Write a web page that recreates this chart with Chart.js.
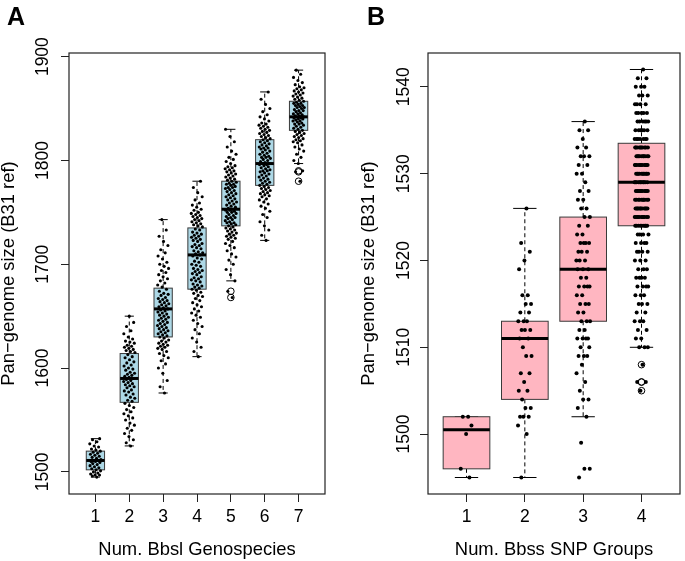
<!DOCTYPE html>
<html>
<head>
<meta charset="utf-8">
<script src="https://cdn.jsdelivr.net/npm/chart.js@4.4.1/dist/chart.umd.min.js"></script>
<style>
  body { margin: 0; background: #fff; }
  .panel { position: absolute; top: 0; height: 561px; }
  #panelA { left: 0; width: 342px; }
  #panelB { left: 342px; width: 343px; }
  .tag { position: absolute; top: 4px; font: bold 25px "Liberation Sans", Arial, sans-serif; line-height: 25px; color: #000; }
</style>
</head>
<body>
<div class="panel" id="panelA">
  <canvas id="chartA" width="342" height="561"></canvas>
  <div class="tag" style="left:7px">A</div>
</div>
<div class="panel" id="panelB">
  <canvas id="chartB" width="343" height="561"></canvas>
  <div class="tag" style="left:25px">B</div>
</div>
<script>
// ---- panel A: pan-genome size by number of Bbsl genospecies ----
const genospecies = [1, 2, 3, 4, 5, 6, 7];
const genoYTicks = [1500, 1600, 1700, 1800, 1900];
const genoMin = [1495, 1525, 1576, 1611, 1684, 1723, 1797];
const genoQ1 = [1502, 1567, 1630, 1676, 1737, 1776, 1829];
const genoMedian = [1511, 1590, 1657, 1709, 1753, 1797, 1842];
const genoQ3 = [1520, 1614, 1677, 1735, 1780, 1820, 1857];
const genoMax = [1532, 1650, 1743, 1780, 1830, 1866, 1887];
const genoOutliers = [[], [], [], [], [1674, 1668], [], [1790, 1789, 1780]];

const genoPoints1 = [1495, 1496, 1497, 1497, 1498, 1499, 1500, 1501, 1502, 1503, 1504, 1505, 1506, 1507, 1508, 1509, 1510, 1510, 1511, 1511, 1512, 1513, 1514, 1515, 1516, 1517, 1518, 1519, 1520, 1521, 1522, 1524, 1525, 1527, 1529, 1531, 1532];
const genoPoints2 = [1525, 1528, 1531, 1534, 1537, 1540, 1542, 1545, 1547, 1550, 1552, 1554, 1556, 1558, 1560, 1562, 1564, 1566,
  1568, 1569, 1571, 1572, 1574, 1575, 1577, 1578, 1579, 1581, 1582, 1583, 1584, 1585, 1586, 1587, 1588, 1589, 1590, 1591, 1592, 1593, 1594, 1595, 1596, 1598, 1599, 1600, 1602, 1603, 1605, 1606, 1608, 1610, 1611, 1613,
  1615, 1616, 1617, 1618, 1619, 1620, 1621, 1622, 1624, 1625, 1626, 1628, 1630, 1633, 1636, 1640, 1644, 1650];
const genoPoints3 = [1576, 1582, 1588, 1595, 1600, 1604, 1607, 1610, 1612, 1614, 1616, 1618, 1619, 1620, 1621, 1622, 1623, 1624, 1625, 1626, 1627, 1629,
  1630, 1631, 1632, 1633, 1634, 1635, 1636, 1637, 1638, 1639, 1640, 1641, 1642, 1643, 1644, 1645, 1646, 1647, 1648, 1649, 1650, 1651, 1652, 1653, 1654, 1655, 1656, 1657, 1658, 1659, 1660, 1661, 1662, 1663, 1664, 1665, 1666, 1667, 1668, 1670, 1671, 1672, 1674, 1676,
  1678, 1680, 1682, 1684, 1686, 1688, 1690, 1692, 1694, 1696, 1698, 1700, 1702, 1705, 1708, 1711, 1714, 1718, 1722, 1727, 1733, 1743];
const genoPoints4 = [1611, 1616, 1620, 1625, 1629, 1633, 1637, 1640, 1643, 1646, 1649, 1651, 1653, 1655, 1657, 1659, 1661, 1663, 1665, 1667, 1669, 1670, 1672, 1673, 1675,
  1676, 1677, 1678, 1679, 1680, 1681, 1683, 1684, 1685, 1686, 1687, 1688, 1690, 1691, 1692, 1693, 1694, 1695, 1696, 1698, 1699, 1700, 1702, 1703, 1705, 1706, 1708, 1709, 1710, 1711, 1712, 1713, 1715, 1716, 1717, 1718, 1719, 1720, 1722, 1723, 1724, 1725, 1726, 1727, 1728, 1729, 1730, 1731, 1733, 1734,
  1736, 1737, 1738, 1739, 1740, 1741, 1742, 1743, 1744, 1745, 1746, 1747, 1748, 1749, 1750, 1752, 1753, 1755, 1757, 1759, 1762, 1765, 1769, 1774, 1780];
const genoPoints5 = [1668, 1674, 1684, 1690, 1695, 1700, 1704, 1707, 1710, 1713, 1716, 1718, 1720, 1722, 1724, 1725, 1726, 1727, 1728, 1729, 1730, 1731, 1732, 1733, 1734, 1735, 1736,
  1737, 1738, 1739, 1740, 1740, 1741, 1742, 1743, 1744, 1745, 1745, 1746, 1747, 1748, 1749, 1750, 1750, 1751, 1752, 1752, 1753, 1754, 1755, 1756, 1757, 1758, 1759, 1760, 1761, 1762, 1763, 1764, 1765, 1766, 1767, 1768, 1769, 1770, 1771, 1772, 1773, 1774, 1774, 1775, 1776, 1777, 1777, 1778, 1779, 1780,
  1781, 1782, 1783, 1784, 1785, 1786, 1787, 1788, 1789, 1790, 1791, 1792, 1793, 1794, 1795, 1797, 1799, 1801, 1803, 1806, 1809, 1813, 1818, 1823, 1830];
const genoPoints6 = [1723, 1728, 1733, 1737, 1741, 1745, 1748, 1751, 1754, 1756, 1758, 1760, 1762, 1763, 1765, 1766, 1767, 1768, 1769, 1770, 1771, 1772, 1773, 1774, 1775,
  1776, 1777, 1778, 1779, 1780, 1781, 1782, 1783, 1784, 1785, 1786, 1787, 1788, 1789, 1790, 1790, 1791, 1792, 1793, 1794, 1795, 1796, 1796, 1797, 1797, 1798, 1799, 1800, 1801, 1802, 1803, 1803, 1804, 1805, 1806, 1807, 1808, 1809, 1810, 1811, 1812, 1812, 1813, 1814, 1815, 1816, 1817, 1818, 1819, 1820,
  1821, 1822, 1823, 1824, 1825, 1826, 1827, 1828, 1829, 1830, 1831, 1832, 1833, 1834, 1835, 1836, 1838, 1840, 1842, 1844, 1847, 1850, 1854, 1859, 1866];
const genoPoints7 = [1780, 1789, 1790, 1797, 1800, 1803, 1806, 1809, 1811, 1813, 1815, 1817, 1818, 1819, 1820, 1821, 1822, 1823, 1824, 1825, 1826, 1827, 1828,
  1829, 1830, 1831, 1832, 1833, 1834, 1835, 1835, 1836, 1837, 1838, 1838, 1839, 1840, 1840, 1841, 1841, 1842, 1842, 1843, 1843, 1844, 1845, 1845, 1846, 1847, 1848, 1848, 1849, 1850, 1851, 1851, 1852, 1853, 1853, 1854, 1855, 1855, 1856, 1857,
  1858, 1859, 1860, 1861, 1862, 1863, 1864, 1865, 1866, 1867, 1868, 1869, 1870, 1871, 1873, 1875, 1877, 1880, 1883, 1887];
const genoPoints = [genoPoints1, genoPoints2, genoPoints3, genoPoints4, genoPoints5, genoPoints6, genoPoints7];

// ---- panel B: pan-genome size by number of Bbss SNP groups ----
const snpGroups = [1, 2, 3, 4];
const snpYTicks = [1500, 1510, 1520, 1530, 1540];
const snpMin = [1495, 1495, 1502, 1510];
const snpQ1 = [1496, 1504, 1513, 1524];
const snpMedian = [1500.5, 1511, 1519, 1529];
const snpQ3 = [1502, 1513, 1525, 1533.5];
const snpMax = [1502, 1526, 1536, 1542];
const snpOutliers = [[], [], [], [1508, 1506, 1506, 1505]];

// genome sizes are whole numbers, so each group is kept as size levels + how many genomes sit at each
const snpLevels1 = [1502, 1501, 1500, 1496, 1495];
const snpCounts1 = [2, 1, 1, 1, 1];
const snpLevels2 = [1526, 1522, 1521, 1520, 1519, 1516, 1515, 1514, 1513, 1512, 1511, 1510, 1509, 1507, 1506, 1505, 1504, 1503, 1502, 1501, 1500, 1495];
const snpCounts2 = [1, 1, 1, 1, 1, 2, 2, 2, 3, 3, 2, 1, 2, 2, 1, 2, 1, 2, 3, 1, 1, 1];
const snpLevels3 = [1536, 1535, 1534, 1533, 1532, 1531, 1530, 1529, 1528, 1527, 1526, 1525, 1524, 1523, 1522, 1521, 1520, 1519, 1518, 1517, 1516, 1515, 1514, 1513, 1512, 1511, 1510, 1509, 1508, 1507, 1506, 1505, 1504, 1503, 1502, 1499, 1496, 1495];
const snpCounts3 = [1, 2, 1, 2, 3, 2, 2, 1, 2, 2, 2, 2, 2, 2, 4, 3, 3, 3, 2, 4, 2, 3, 2, 3, 2, 4, 2, 3, 1, 1, 1, 1, 2, 1, 1, 1, 2, 1];
const snpLevels4 = [1542, 1541, 1540, 1539, 1538, 1537, 1536, 1535, 1534, 1533, 1532, 1531, 1530, 1529, 1528, 1527, 1526, 1525, 1524, 1523, 1522, 1521, 1520, 1519, 1518, 1517, 1516, 1515, 1514, 1513, 1512, 1511, 1510, 1508, 1506, 1505];
const snpCounts4 = [1, 2, 3, 3, 4, 5, 6, 6, 7, 10, 10, 11, 11, 11, 11, 10, 11, 11, 9, 4, 4, 4, 3, 3, 4, 4, 3, 3, 2, 3, 2, 2, 3, 1, 2, 1];
const snpLevels = [snpLevels1, snpLevels2, snpLevels3, snpLevels4];
const snpCounts = [snpCounts1, snpCounts2, snpCounts3, snpCounts4];

Chart.defaults.font.family = '"Liberation Sans", Arial, Helvetica, sans-serif';
Chart.defaults.color = '#000';

// spread dots sideways like R's jitter(), but deterministic (golden-ratio steps)
function jitter(i, amount) {
    return ((i * 0.6180339887) % 1 - 0.5) * 2 * amount;
}

function expandLevels(levels, counts) {
    const out = [];
    levels.forEach((v, i) => { for (let k = 0; k < counts[i]; k++) out.push(v); });
    return out;
}

const boxPlot = {
    id: 'boxPlot',
    beforeDatasetsDraw(chart, args, o) {
        const { ctx, scales: { x, y } } = chart;
        const line = (x1, y1, x2, y2) => { ctx.beginPath(); ctx.moveTo(x1, y1); ctx.lineTo(x2, y2); ctx.stroke(); };
        ctx.save();
        o.cats.forEach((c, i) => {
            const xl = x.getPixelForValue(c - o.width / 2);
            const xr = x.getPixelForValue(c + o.width / 2);
            const xc = x.getPixelForValue(c);
            const sl = x.getPixelForValue(c - o.width / 4);
            const sr = x.getPixelForValue(c + o.width / 4);
            const yMin = y.getPixelForValue(o.min[i]);
            const yQ1 = y.getPixelForValue(o.q1[i]);
            const yMed = y.getPixelForValue(o.median[i]);
            const yQ3 = y.getPixelForValue(o.q3[i]);
            const yMax = y.getPixelForValue(o.max[i]);

            ctx.strokeStyle = '#000';
            ctx.lineWidth = 1;
            ctx.setLineDash([4, 3]);
            line(xc, yQ3, xc, yMax);
            line(xc, yQ1, xc, yMin);
            ctx.setLineDash([]);
            line(sl, yMax, sr, yMax);
            line(sl, yMin, sr, yMin);

            ctx.fillStyle = o.fill;
            ctx.fillRect(xl, yQ3, xr - xl, yQ1 - yQ3);
            ctx.strokeStyle = o.stroke;
            ctx.strokeRect(xl, yQ3, xr - xl, yQ1 - yQ3);

            ctx.strokeStyle = '#000';
            ctx.lineWidth = 3;
            line(xl, yMed, xr, yMed);
        });
        ctx.restore();
    },
    afterDraw(chart) {
        const { ctx, chartArea: a } = chart;
        ctx.save();
        ctx.strokeStyle = '#222';
        ctx.lineWidth = 1.2;
        ctx.strokeRect(a.left, a.top, a.right - a.left, a.bottom - a.top);
        ctx.restore();
    }
};

function makeChart(id, cfg) {
    const pts = [];
    const outs = [];
    cfg.groups.forEach((g, gi) => {
        cfg.values[gi].forEach((v, i) => pts.push({ x: g + jitter(i + 1, cfg.jitter), y: v }));
        cfg.outliers[gi].forEach(v => outs.push({ x: g, y: v }));
    });

    return new Chart(document.getElementById(id), {
        type: 'scatter',
        data: {
            datasets: [
                {
                    data: pts,
                    pointRadius: cfg.dot,
                    pointBackgroundColor: '#000',
                    pointBorderWidth: 0
                },
                {
                    data: outs,
                    pointRadius: 3.3,
                    pointBackgroundColor: 'rgba(0,0,0,0)',
                    pointBorderColor: '#000',
                    pointBorderWidth: 1
                }
            ]
        },
        options: {
            responsive: false,
            animation: false,
            layout: { padding: cfg.padding },
            plugins: {
                legend: { display: false },
                tooltip: { enabled: false },
                boxPlot: cfg.box
            },
            scales: {
                x: {
                    type: 'linear',
                    min: cfg.xRange[0],
                    max: cfg.xRange[1],
                    afterBuildTicks: s => { s.ticks = cfg.groups.map(v => ({ value: v })); },
                    afterFit: s => { s.height = cfg.xAxisHeight; },
                    border: { display: false },
                    grid: { drawOnChartArea: false, drawTicks: true, tickLength: 8, color: '#222' },
                    ticks: { autoSkip: false, maxRotation: 0, padding: 5, font: { size: 17.5 }, callback: v => String(v) },
                    title: { display: true, text: cfg.xTitle, font: { size: 18.4, lineHeight: 1 }, padding: { top: 0, bottom: 2 } }
                },
                y: {
                    min: cfg.yRange[0],
                    max: cfg.yRange[1],
                    afterBuildTicks: s => { s.ticks = cfg.yTicks.map(v => ({ value: v })); },
                    afterFit: s => { s.width = cfg.yAxisWidth; },
                    border: { display: false },
                    grid: { drawOnChartArea: false, drawTicks: true, tickLength: 8, color: '#222' },
                    ticks: { minRotation: 90, maxRotation: 90, crossAlign: 'center', padding: cfg.yTickPad, font: { size: 17.5 }, callback: v => String(v) },
                    title: { display: true, text: 'Pan\u2212genome size (B31 ref)', font: { size: 18.4, lineHeight: 1 }, padding: { top: 0, bottom: 0 } }
                }
            }
        },
        plugins: [boxPlot]
    });
}

makeChart('chartA', {
    groups: genospecies,
    values: genoPoints,
    outliers: genoOutliers,
    jitter: 0.17,
    dot: 1.55,
    xRange: [0.22, 7.78],
    yRange: [1478.7, 1903.5],
    yTicks: genoYTicks,
    padding: { left: 0, top: 53, right: 17, bottom: 0 },
    xAxisHeight: 67,
    yAxisWidth: 69,
    yTickPad: -2,
    xTitle: 'Num. Bbsl Genospecies',
    box: { cats: genospecies, width: 0.54, min: genoMin, q1: genoQ1, median: genoMedian, q3: genoQ3, max: genoMax, fill: '#add8e6', stroke: '#3a3a3a' }
});

makeChart('chartB', {
    groups: snpGroups,
    values: snpGroups.map((g, i) => expandLevels(snpLevels[i], snpCounts[i])),
    outliers: snpOutliers,
    jitter: 0.12,
    dot: 2,
    xRange: [0.34, 4.66],
    yRange: [1493.1, 1543.9],
    yTicks: snpYTicks,
    padding: { left: 18, top: 53, right: 1, bottom: 0 },
    xAxisHeight: 67,
    yAxisWidth: 68,
    yTickPad: -4,
    xTitle: 'Num. Bbss SNP Groups',
    box: { cats: snpGroups, width: 0.8, min: snpMin, q1: snpQ1, median: snpMedian, q3: snpQ3, max: snpMax, fill: '#ffb6c1', stroke: '#3a3a3a' }
});
</script>
</body>
</html>
